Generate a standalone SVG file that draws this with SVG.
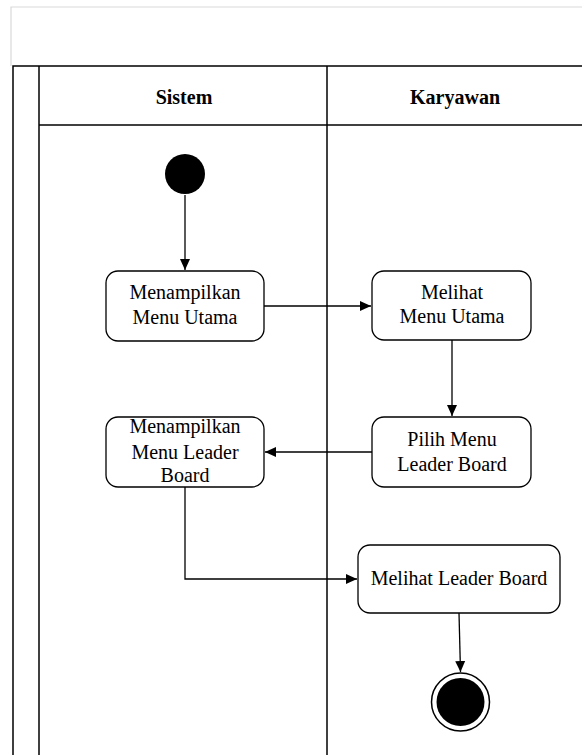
<svg xmlns="http://www.w3.org/2000/svg" width="582" height="755" viewBox="0 0 582 755">
  <style>
    .frame { fill: none; stroke: #000; stroke-width: 1.5; }
    .outer { fill: none; stroke: #d9d9d9; stroke-width: 1.2; }
    .node rect { fill: #fff; stroke: #000; stroke-width: 1.3; }
    .label { font-family: "Liberation Serif", "Times New Roman", serif; font-size: 20px; fill: #000; text-anchor: middle; }
    .lane { font-family: "Liberation Serif", "Times New Roman", serif; font-size: 20px; font-weight: bold; fill: #000; text-anchor: middle; }
    .edge { fill: none; stroke: #000; stroke-width: 1.3; marker-end: url(#arrow); }
  </style>
  <defs>
    <marker id="arrow" markerUnits="userSpaceOnUse" markerWidth="12" markerHeight="12" viewBox="0 0 12 12" refX="11" refY="6" orient="auto">
      <path d="M0,1 L11,6 L0,11 Z" fill="#000"/>
    </marker>
  </defs>
  <rect width="582" height="755" fill="#fff"/>

  <!-- pool outline -->
  <path class="outer" d="M11,66 V7 H582"/>
  <g id="pool">
    <path class="frame" d="M13,755 V66 H582"/>
    <path class="frame" d="M39,755 V66"/>
    <path class="frame" d="M39,125 H582"/>
    <path class="frame" d="M327,755 V66"/>
    <text class="lane" x="184" y="104">Sistem</text>
    <text class="lane" x="455" y="104">Karyawan</text>
  </g>

  <!-- connectors -->
  <g id="connectors">
    <path class="edge" d="M185,195 V270"/>
    <path class="edge" d="M264,306 H371"/>
    <path class="edge" d="M452,340 V416"/>
    <path class="edge" d="M372,452 H265"/>
    <path class="edge" d="M185,487 V579 H357"/>
    <path class="edge" d="M459,613 L460.5,672"/>
  </g>

  <g id="start">
    <circle cx="185" cy="174" r="20" fill="#000"/>
  </g>

  <g id="menampilkan-menu-utama" class="node">
    <rect x="106" y="271" width="158" height="70" rx="12"/>
    <text class="label" x="185" y="299">Menampilkan</text>
    <text class="label" x="185" y="324">Menu Utama</text>
  </g>

  <g id="melihat-menu-utama" class="node">
    <rect x="372" y="271" width="159" height="69" rx="12"/>
    <text class="label" x="452" y="299">Melihat</text>
    <text class="label" x="452" y="323">Menu Utama</text>
  </g>

  <g id="pilih-menu-leader-board" class="node">
    <rect x="372" y="417" width="159" height="70" rx="12"/>
    <text class="label" x="452" y="446">Pilih Menu</text>
    <text class="label" x="452" y="471">Leader Board</text>
  </g>

  <g id="menampilkan-menu-leader-board" class="node">
    <rect x="106" y="417" width="158" height="70" rx="12"/>
    <text class="label" x="185" y="433">Menampilkan</text>
    <text class="label" x="185" y="459">Menu Leader</text>
    <text class="label" x="185" y="482">Board</text>
  </g>

  <g id="melihat-leader-board" class="node">
    <rect x="358" y="545" width="202" height="68" rx="12"/>
    <text class="label" x="459" y="585">Melihat Leader Board</text>
  </g>

  <g id="end">
    <circle cx="460.5" cy="702" r="29" fill="#fff" stroke="#000" stroke-width="1.5"/>
    <circle cx="460.5" cy="702" r="24" fill="#000"/>
  </g>
</svg>
